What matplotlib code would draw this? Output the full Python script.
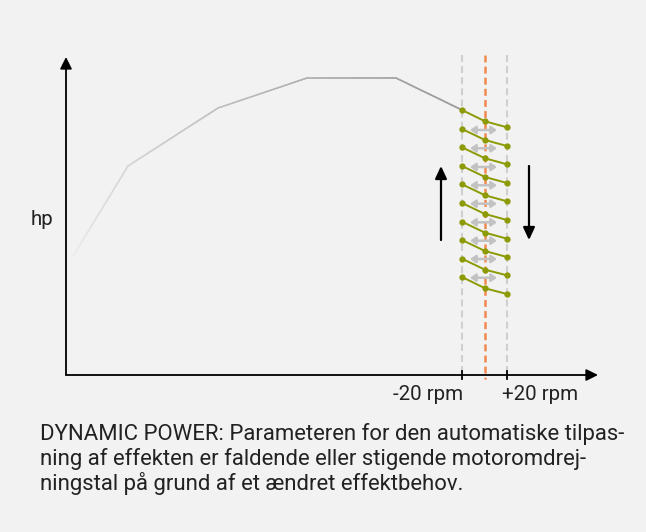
import numpy as np
import matplotlib
matplotlib.use("Agg")
import matplotlib.pyplot as plt
from matplotlib.collections import LineCollection

plt.rcParams['font.family'] = ['Roboto', 'DejaVu Sans']
plt.rcParams['lines.scale_dashes'] = False

# ---- data (chart units, origin at axes corner) ----
curve_x = [6, 62, 152, 241, 330, 396]
curve_y = [117, 209, 267, 297, 297, 265]

zig_x = [396, 419, 441]
zig_left_y = [265, 246, 227.7, 209, 190.7, 172, 153.3, 135, 116.3, 98]
zig_mid_y = [253.7, 235, 216.7, 198, 179.7, 161, 142.3, 124, 105.3, 86.7]
zig_right_y = [247.7, 229, 210.7, 192, 173.7, 155, 136.3, 118, 99.7, 81]

shift_y = [245, 226.7, 208, 189.7, 171.3, 152.7, 134.3, 116, 97.3]
shift_x = [404, 431]

rpm_ticks = [396, 441]
rpm_center = 419
rpm_labels = ['-20 rpm', '+20 rpm']

up_arrow = (375, 135, 209)
down_arrow = (463, 209, 135)

ylabel = 'hp'
caption = ["DYNAMIC POWER: Parameteren for den automatiske tilpas-",
           "ning af effekten er faldende eller stigende motoromdrej-",
           "ningstal på grund af et ændret effektbehov."]

BG = '#f1f2f1'
fig = plt.figure(figsize=(6.46, 5.32), dpi=100, facecolor=BG)
ax = fig.add_axes([0, 0, 1, 1])
ax.set_facecolor(BG)
ax.set_xlim(-66, 580)
ax.set_ylim(-157, 375)
ax.axis('off')

FS = 14.8
FS_CAP = 15.9

# axes with arrows
ax.annotate('', xy=(0, 318), xytext=(0, 0),
            arrowprops=dict(arrowstyle='-|>,head_length=0.7,head_width=0.35', color='black', lw=1.3,
                            shrinkA=0, shrinkB=0))
ax.annotate('', xy=(532, 0), xytext=(0, 0),
            arrowprops=dict(arrowstyle='-|>,head_length=0.7,head_width=0.35', color='black', lw=1.3,
                            shrinkA=0, shrinkB=0))

# gradient curve
xs = np.array(curve_x, dtype=float)
ys = np.array(curve_y, dtype=float)
pts = []
for i in range(len(xs) - 1):
    n = 30
    t = np.linspace(0, 1, n + 1)
    sx = xs[i] + (xs[i + 1] - xs[i]) * t
    sy = ys[i] + (ys[i + 1] - ys[i]) * t
    for j in range(n):
        pts.append([[sx[j], sy[j]], [sx[j + 1], sy[j + 1]]])
pts = np.array(pts)
mx = pts[:, :, 0].mean(axis=1)
frac = (mx - xs[0]) / (xs[-1] - xs[0])
frac = np.clip(frac, 0, 1) ** 0.6
c0 = np.array([0xf0, 0xf1, 0xf0]) / 255
c1 = np.array([0x99, 0x99, 0x99]) / 255
cols = [tuple(c0 + (c1 - c0) * f) for f in frac]
ax.add_collection(LineCollection(pts, colors=cols, linewidths=1.2, capstyle='round'))

# dashed rpm lines
for x in rpm_ticks:
    ax.plot([x, x], [320, -4], color='#cfcfcf', lw=1.5, dashes=(5, 3), zorder=2)
    ax.plot([x, x], [4, -4], color='black', lw=1.3, zorder=3)
ax.plot([rpm_center, rpm_center], [320, -4], color='#f08a4f', lw=1.8, dashes=(5, 3), zorder=3)

# shift arrows
for y in shift_y:
    ax.annotate('', xy=(shift_x[1], y), xytext=(shift_x[0], y),
                arrowprops=dict(arrowstyle='<|-|>,head_length=0.32,head_width=0.22', color='#c2c2c2',
                                lw=1.8, shrinkA=0, shrinkB=0), zorder=4)

# olive zigzag
for a, b, c in zip(zig_left_y, zig_mid_y, zig_right_y):
    ax.plot(zig_x, [a, b, c], color='#8c9a04', lw=1.4, marker='o', ms=3.5, zorder=5)

# up/down arrows
ax.annotate('', xy=(up_arrow[0], up_arrow[2]), xytext=(up_arrow[0], up_arrow[1]),
            arrowprops=dict(arrowstyle='-|>,head_length=0.75,head_width=0.35', color='black', lw=1.6,
                            shrinkA=0, shrinkB=0))
ax.annotate('', xy=(down_arrow[0], down_arrow[2]), xytext=(down_arrow[0], down_arrow[1]),
            arrowprops=dict(arrowstyle='-|>,head_length=0.75,head_width=0.35', color='black', lw=1.6,
                            shrinkA=0, shrinkB=0))

# texts
ax.text(-24, 150, ylabel, ha='center', va='baseline', fontsize=FS, color='#222222')
ax.text(rpm_ticks[0] + 1, -25, rpm_labels[0], ha='right', va='baseline', fontsize=FS, color='#222222')
ax.text(rpm_ticks[1] - 5, -25, rpm_labels[1], ha='left', va='baseline', fontsize=FS, color='#222222')
for i, line in enumerate(caption):
    ax.text(-26, -65 - 25 * i, line, ha='left', va='baseline', fontsize=FS_CAP, color='#222222')

fig.savefig('out.png', dpi=100, facecolor=BG)
